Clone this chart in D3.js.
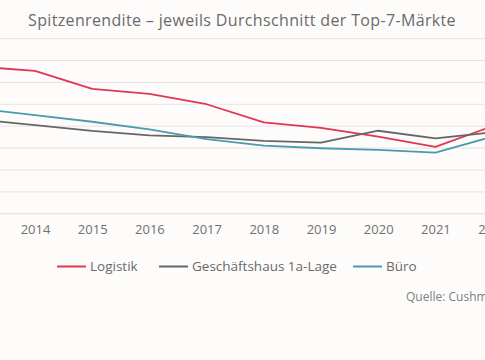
<!DOCTYPE html>
<html><head><meta charset="utf-8">
<script src="https://cdn.jsdelivr.net/npm/d3@7"></script>
<style>
html,body{margin:0;padding:0;background:#fdfcfb;overflow:hidden;}
svg{display:block;font-family:"Open Sans",sans-serif;}
</style></head>
<body>
<script>
const years = [2013, 2014, 2015, 2016, 2017, 2018, 2019, 2020, 2021, 2022];
const tickYears = [2014, 2015, 2016, 2017, 2018, 2019, 2020, 2021, 2022];
const logistik = [6.7, 6.5, 5.68, 5.45, 4.98, 4.15, 3.9, 3.5, 3.03, 3.98];
const geschaeftshaus = [4.28, 4.03, 3.76, 3.56, 3.48, 3.31, 3.23, 3.77, 3.42, 3.7];
const buero = [4.79, 4.48, 4.18, 3.83, 3.39, 3.09, 2.97, 2.9, 2.77, 3.5];
const yTicks = [0, 1, 2, 3, 4, 5, 6, 7, 8];
const seriesNames = ["Logistik", "Geschäftshaus 1a-Lage", "Büro"];
const colors = ["#e0364f", "#666666", "#4a9bb0"];
const title = "Spitzenrendite – jeweils Durchschnitt der Top-7-Märkte";
const source = "Quelle: Cushman & Wakefield";

const W = 485, H = 360;
const svg = d3.select("body").append("svg").attr("width", W).attr("height", H);
svg.append("rect").attr("width", W).attr("height", H).attr("fill", "#fdfcfb");

const x = d3.scaleLinear().domain([2013, 2022]).range([-22.2, 492.6]);
const y = d3.scaleLinear().domain([0, 8]).range([213.3, 38.1]);

// gridlines
const gy = svg.append("g").call(d3.axisLeft(y).tickValues(yTicks).tickSize(-W).tickFormat(""));
gy.select(".domain").remove();
gy.selectAll(".tick line").attr("stroke", "#e6e4e2").attr("stroke-width", 1).attr("x1", 0).attr("x2", W);
gy.selectAll(".tick").filter(d => d === 0).select("line").attr("stroke", "#dddbd9");

// x axis
const gx = svg.append("g").attr("transform", "translate(0,213.3)")
  .call(d3.axisBottom(x).tickValues(tickYears).tickSize(0).tickPadding(11).tickFormat(d3.format("d")));
gx.select(".domain").remove();
gx.selectAll("text").attr("fill", "#707070").attr("font-size", 13).attr("font-family", "'Open Sans',sans-serif");

// lines
const series = [logistik, geschaeftshaus, buero];
const line = d3.line().x((d, i) => x(years[i])).y(d => y(d));
series.forEach((s, k) => {
  svg.append("path").datum(s).attr("d", line).attr("fill", "none")
    .attr("stroke", colors[k]).attr("stroke-width", 1.8).attr("stroke-linejoin", "round");
});

// title
svg.append("text").attr("x", 242).attr("y", 26).attr("text-anchor", "middle")
  .attr("font-size", 16).attr("letter-spacing", 0.35).attr("fill", "#6a6a6a").text(title);

// legend
const legX = [57, 159, 353];
const lg = svg.append("g");
seriesNames.forEach((n, k) => {
  lg.append("line").attr("x1", legX[k]).attr("x2", legX[k] + 29).attr("y1", 266.5).attr("y2", 266.5)
    .attr("stroke", colors[k]).attr("stroke-width", 2);
  lg.append("text").attr("x", legX[k] + 33).attr("y", 271).attr("font-size", 13.5)
    .attr("fill", "#6a6a6a").text(n);
});

// source
svg.append("text").attr("x", 406).attr("y", 301).attr("font-size", 12)
  .attr("fill", "#808080").text(source);
</script>
</body></html>
